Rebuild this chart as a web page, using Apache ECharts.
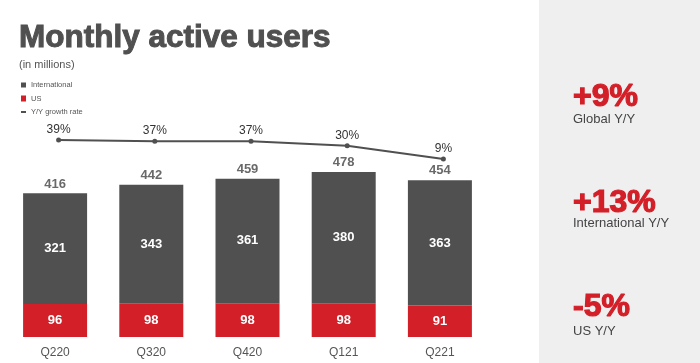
<!DOCTYPE html>
<html>
<head>
<meta charset="utf-8">
<script src="https://cdn.jsdelivr.net/npm/echarts@6/dist/echarts.min.js"></script>
<style>
html,body{margin:0;padding:0;background:#fff;}
#c{width:700px;height:363px;}
</style>
</head>
<body>
<div id="c"></div>
<script>
var categories = ['Q220', 'Q320', 'Q420', 'Q121', 'Q221'];
var international = [321, 343, 361, 380, 363];
var us = [96, 98, 98, 98, 91];
var totals = [416, 442, 459, 478, 454];
var growth = [39, 37, 37, 30, 9];
var sideValues = ['+9%', '+13%', '-5%'];
var sideLabels = ['Global Y/Y', 'International Y/Y', 'US Y/Y'];

var FONT = '"Liberation Sans", Arial, Helvetica, sans-serif';
var DARK = '#505050';
var RED = '#d31f28';

var chart = echarts.init(document.getElementById('c'), null, {renderer: 'canvas'});

var sideTop = [97, 203, 307];
var sideSubTop = [119, 223, 331];
var graphics = [{
  type: 'rect', left: 539, top: 0, z: -10,
  shape: {width: 161, height: 363},
  style: {fill: '#efefef'}
}];
for (var i = 0; i < sideValues.length; i++) {
  graphics.push({
    type: 'text', x: 573, y: sideTop[i],
    style: {text: sideValues[i], fill: RED, stroke: RED, lineWidth: 1.2, font: 'bold 32px ' + FONT, verticalAlign: 'middle', align: 'left'}
  });
  graphics.push({
    type: 'text', x: 573, y: sideSubTop[i],
    style: {text: sideLabels[i], fill: '#444', font: '13px ' + FONT, verticalAlign: 'middle', align: 'left'}
  });
}

var legendCommon = {
  orient: 'vertical', left: 21, padding: 0, itemGap: 4,
  textStyle: {fontSize: 7.5, color: '#555', fontFamily: FONT},
  selectedMode: false
};

var option = {
  animation: false,
  textStyle: {fontFamily: FONT},
  title: [{
    text: 'Monthly active users', left: 14, top: 17,
    textStyle: {fontSize: 31.5, fontWeight: 'bold', color: '#505050', fontFamily: FONT,
      textBorderColor: '#505050', textBorderWidth: 1}
  }, {
    text: '(in millions)', left: 19, top: 59, padding: 0,
    textStyle: {fontSize: 11, fontWeight: 'normal', color: '#555', fontFamily: FONT}
  }],
  legend: [
    Object.assign({}, legendCommon, {top: 81, data: [{name: 'International', icon: 'rect'}], itemWidth: 5, itemHeight: 5}),
    Object.assign({}, legendCommon, {top: 94.5, data: [{name: 'US', icon: 'rect'}], itemWidth: 5, itemHeight: 6}),
    Object.assign({}, legendCommon, {top: 108, data: [{name: 'Y/Y growth rate', icon: 'rect'}], itemWidth: 5, itemHeight: 2})
  ],
  graphic: graphics,
  grid: [
    {left: 7, right: 212, top: 164.5, bottom: 26},
    {left: 10.5, right: 208.5, top: 139.4, bottom: 198.3}
  ],
  xAxis: [{
    type: 'category', gridIndex: 0, data: categories,
    axisLine: {show: false}, axisTick: {show: false},
    axisLabel: {fontSize: 12, color: '#555', margin: 10, fontFamily: FONT}
  }, {
    type: 'category', gridIndex: 1, data: categories, show: false
  }],
  yAxis: [{
    type: 'value', gridIndex: 0, min: 0, max: 500, show: false, splitLine: {show: false}
  }, {
    type: 'value', gridIndex: 1, min: 0, max: 40, show: false, splitLine: {show: false}
  }],
  series: [{
    name: 'US', type: 'bar', stack: 'mau', xAxisIndex: 0, yAxisIndex: 0,
    data: us, barWidth: 64,
    itemStyle: {color: RED},
    label: {show: true, position: 'inside', color: '#fff', fontWeight: 'bold', fontSize: 13, fontFamily: FONT}
  }, {
    name: 'International', type: 'bar', stack: 'mau', xAxisIndex: 0, yAxisIndex: 0,
    data: international, barWidth: 64,
    itemStyle: {color: DARK},
    label: {show: true, position: 'inside', color: '#fff', fontWeight: 'bold', fontSize: 13, fontFamily: FONT}
  }, {
    name: 'Total', type: 'scatter', xAxisIndex: 0, yAxisIndex: 0,
    data: totals, symbolSize: 0, silent: true,
    label: {show: true, position: 'top', distance: 3, color: '#444', fontWeight: 'bold', fontSize: 13, fontFamily: FONT}
  }, {
    name: 'Y/Y growth rate', type: 'line', xAxisIndex: 1, yAxisIndex: 1,
    data: growth, symbol: 'circle', symbolSize: 5,
    lineStyle: {color: DARK, width: 2},
    itemStyle: {color: DARK},
    label: {show: true, position: 'top', distance: 2, formatter: '{c}%', color: '#333', fontSize: 12, fontFamily: FONT}
  }]
};
chart.setOption(option);
</script>
</body>
</html>
